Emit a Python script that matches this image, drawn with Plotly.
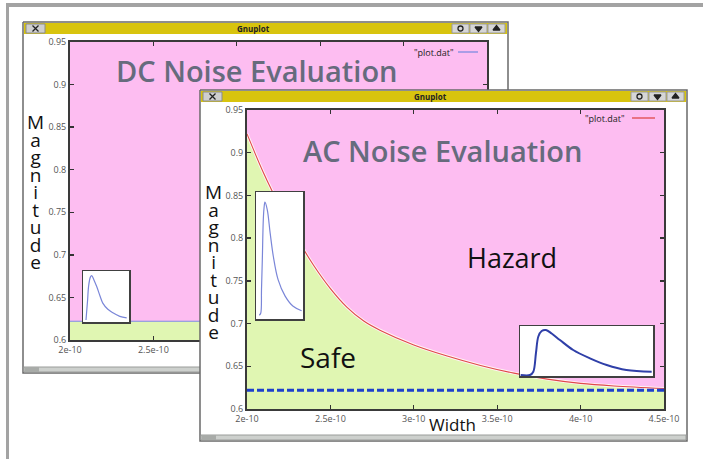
import plotly.graph_objects as go

W, H = 703, 459

# ---------------- data ----------------
# AC noise boundary (pulse width [s] vs magnitude)
ac_width = [2.0e-10, 2.1e-10, 2.2e-10, 2.3e-10, 2.4e-10, 2.5e-10, 2.6e-10, 2.7e-10,
            2.8e-10, 3.0e-10, 3.2e-10, 3.4e-10, 3.6e-10, 3.8e-10, 4.0e-10, 4.2e-10, 4.5e-10]
ac_mag = [0.922, 0.876, 0.836, 0.800, 0.768, 0.741, 0.719, 0.703,
          0.692, 0.675, 0.662, 0.651, 0.642, 0.635, 0.630, 0.627, 0.624]

# DC noise boundary (flat)
dc_width = [2.0e-10, 2.5e-10, 3.0e-10, 3.5e-10, 4.0e-10, 4.5e-10]
dc_mag = [0.622, 0.622, 0.622, 0.622, 0.622, 0.622]

# DC level shown dashed in the AC plot
lvl_width = [2.0e-10, 2.5e-10, 3.0e-10, 3.5e-10, 4.0e-10, 4.5e-10]
lvl_mag = [0.622, 0.622, 0.622, 0.622, 0.622, 0.622]

# small pulse sketches (normalised time, normalised amplitude)
dc_pulse_t = [0.065, 0.10, 0.12, 0.16, 0.19, 0.24, 0.30, 0.37, 0.43, 0.54, 0.65, 0.80, 0.95]
dc_pulse_a = [0.04, 0.43, 0.69, 0.88, 0.91, 0.82, 0.69, 0.51, 0.37, 0.25, 0.18, 0.11, 0.08]

acl_pulse_t = [0.07, 0.10, 0.117, 0.134, 0.155, 0.17, 0.19, 0.24, 0.30, 0.37, 0.47, 0.62, 0.79, 0.97]
acl_pulse_a = [0.03, 0.045, 0.23, 0.46, 0.78, 0.87, 0.92, 0.86, 0.68, 0.49, 0.31, 0.18, 0.10, 0.065]

acr_pulse_t = [0.005, 0.075, 0.10, 0.12, 0.138, 0.163, 0.195, 0.238, 0.30, 0.40, 0.526, 0.652, 0.80, 0.99]
acr_pulse_a = [0.02, 0.02, 0.086, 0.46, 0.79, 0.90, 0.92, 0.85, 0.72, 0.52, 0.354, 0.22, 0.12, 0.086]

x_tickvals = [2.0e-10, 2.5e-10, 3.0e-10, 3.5e-10, 4.0e-10, 4.5e-10]
x_ticktext = ["2e-10", "2.5e-10", "3e-10", "3.5e-10", "4e-10", "4.5e-10"]
y_tickvals = [0.6, 0.65, 0.7, 0.75, 0.8, 0.85, 0.9, 0.95]
y_ticktext = ["0.6", "0.65", "0.7", "0.75", "0.8", "0.85", "0.9", "0.95"]

# ---------------- styling ----------------
PINK = "#fdbdf1"
GREEN = "#e0f6b2"
YELLOW = "#d8c40e"
FONT = "Open Sans"

fig = go.Figure()


def dom(px0, px1, py0, py1):
    return [px0 / W, px1 / W], [1 - py1 / H, 1 - py0 / H]


def rect(xa, ya, x0, y0, x1, y1, fill, line=None, lw=0):
    fig.add_trace(go.Scatter(
        x=[x0, x1, x1, x0, x0], y=[y0, y0, y1, y1, y0], xaxis=xa, yaxis=ya,
        mode="lines", fill="toself", fillcolor=fill,
        line=dict(color=line or fill, width=lw), hoverinfo="skip", showlegend=False))


def glyph(xa, ya, x, y, symbol, size=6, color="#222"):
    fig.add_trace(go.Scatter(
        x=[x], y=[y], xaxis=xa, yaxis=ya, mode="markers",
        marker=dict(symbol=symbol, size=size, color=color, line=dict(color=color, width=1.3)),
        hoverinfo="skip", showlegend=False))


def window(xa, ya, x0, y0, x1, y1):
    rect(xa, ya, x0, y0, x1, y1, "white", "#6a6a6a", 1.5)
    rect(xa, ya, x0 + 1, y0 + 1, x1 - 1, y0 + 12, YELLOW)
    # close button
    rect(xa, ya, x0 + 3, y0 + 2, x0 + 22, y0 + 11, "#cfcfcf", "#8a8a8a", 1)
    glyph(xa, ya, x0 + 12.5, y0 + 6.5, "x-thin-open", 6)
    # right buttons
    bx = x1 - 56
    for i, sym in enumerate(["circle-open", "triangle-down", "triangle-up"]):
        rect(xa, ya, bx + i * 18, y0 + 2, bx + i * 18 + 17, y0 + 11, "#d6d6d6", "#9a9a9a", 1)
        glyph(xa, ya, bx + i * 18 + 8.5, y0 + 6.5, sym, 6 if i else 5)
    # bottom strip
    rect(xa, ya, x0 + 1, y1 - 6, x1 - 1, y1 - 1, "#cdd0cd", "#9a9c9a", 1)
    rect(xa, ya, x0 + 2, y1 - 6, x0 + 16, y1 - 1, "#a8aba8")


# ---- canvas 1: outer frame + DC window ----
rect("x", "y", 6, 3, 703, 7, "#a3a3a3")
rect("x", "y", 6, 3, 9, 459, "#a3a3a3")
window("x", "y", 23, 22, 508, 373)

# ---- DC plot ----
fig.add_trace(go.Scatter(x=dc_width, y=dc_mag, xaxis="x2", yaxis="y2", mode="lines",
                         fill="tozeroy", fillcolor=GREEN, line=dict(width=0),
                         hoverinfo="skip", showlegend=False))
fig.add_trace(go.Scatter(x=[dc_width[0], dc_width[-1]], y=[0.95, 0.95], xaxis="x2", yaxis="y2",
                         mode="lines", fill="tonexty", fillcolor=PINK, line=dict(width=0),
                         hoverinfo="skip", showlegend=False))
fig.add_trace(go.Scatter(x=dc_width, y=dc_mag, xaxis="x2", yaxis="y2", mode="lines",
                         line=dict(color="#7d8be0", width=1.2), hoverinfo="skip", showlegend=False))

# ---- DC inset ----
rect("x3", "y3", 0, 0, 1, 1, "white")
fig.add_trace(go.Scatter(x=dc_pulse_t, y=dc_pulse_a, xaxis="x3", yaxis="y3", mode="lines",
                         line=dict(color="#7a86d8", width=1.2, shape="spline"),
                         hoverinfo="skip", showlegend=False))

# ---- canvas 2: AC window ----
window("x4", "y4", 200, 90, 687, 441)

# ---- AC plot ----
fig.add_trace(go.Scatter(x=ac_width, y=ac_mag, xaxis="x5", yaxis="y5", mode="lines",
                         fill="tozeroy", fillcolor=GREEN, line=dict(width=0, shape="spline"),
                         hoverinfo="skip", showlegend=False))
fig.add_trace(go.Scatter(x=[ac_width[0], ac_width[-1]], y=[0.95, 0.95], xaxis="x5", yaxis="y5",
                         mode="lines", fill="tonexty", fillcolor=PINK, line=dict(width=0),
                         hoverinfo="skip", showlegend=False))
fig.add_trace(go.Scatter(x=ac_width, y=ac_mag, xaxis="x5", yaxis="y5", mode="lines",
                         line=dict(color="#fff4f4", width=3, shape="spline"),
                         hoverinfo="skip", showlegend=False))
fig.add_trace(go.Scatter(x=ac_width, y=ac_mag, xaxis="x5", yaxis="y5", mode="lines",
                         line=dict(color="#e0484a", width=1.1, shape="spline"),
                         hoverinfo="skip", showlegend=False))
fig.add_trace(go.Scatter(x=lvl_width, y=lvl_mag, xaxis="x5", yaxis="y5", mode="lines",
                         line=dict(color="#1d3fcc", width=3, dash="7px,3px"),
                         hoverinfo="skip", showlegend=False))

# ---- AC insets ----
rect("x6", "y6", 0, 0, 1, 1, "white")
fig.add_trace(go.Scatter(x=acl_pulse_t, y=acl_pulse_a, xaxis="x6", yaxis="y6", mode="lines",
                         line=dict(color="#7a86d8", width=1.2, shape="spline"),
                         hoverinfo="skip", showlegend=False))
rect("x7", "y7", 0, 0, 1, 1, "white")
fig.add_trace(go.Scatter(x=acr_pulse_t, y=acr_pulse_a, xaxis="x7", yaxis="y7", mode="lines",
                         line=dict(color="#2f3fa8", width=2, shape="spline"),
                         hoverinfo="skip", showlegend=False))

# ---------------- axes ----------------
canvas = dict(domain=[0, 1], visible=False, fixedrange=True, automargin=False)
tickfont = dict(family=FONT, size=9, color="#555")


def plot_axes(n, xd, yd, xtext):
    return (
        dict(domain=xd, range=[2e-10, 4.5e-10], anchor="y%d" % n, tickvals=x_tickvals,
             ticktext=xtext, ticks="inside", ticklen=4, tickwidth=1.3, tickcolor="#333",
             showline=True, linecolor="#3a3a3a", linewidth=2, mirror="ticks", automargin=False,
             showgrid=False, zeroline=False, tickfont=tickfont, fixedrange=True),
        dict(domain=yd, range=[0.6, 0.95], anchor="x%d" % n, tickvals=y_tickvals,
             ticktext=y_ticktext, ticks="inside", ticklen=4, tickwidth=1.3, tickcolor="#333",
             showline=True, linecolor="#3a3a3a", linewidth=2, mirror="ticks", automargin=False,
             showgrid=False, zeroline=False, tickfont=tickfont, fixedrange=True),
    )


def inset_axes(n, xd, yd):
    common = dict(range=[0, 1], showline=True, linecolor="#404040", linewidth=1.5, mirror=True,
                  showticklabels=False, ticks="", showgrid=False, zeroline=False,
                  fixedrange=True, automargin=False)
    return dict(domain=xd, anchor="y%d" % n, **common), dict(domain=yd, anchor="x%d" % n, **common)


dc_xd, dc_yd = dom(70, 487, 42, 340)
ac_xd, ac_yd = dom(247, 664, 110, 409)
dcx, dcy = plot_axes(2, dc_xd, dc_yd, [x_ticktext[0], x_ticktext[1], "", "", "", ""])
acx, acy = plot_axes(5, ac_xd, ac_yd, x_ticktext)
i3x, i3y = inset_axes(3, *dom(83, 129, 271, 322))
i6x, i6y = inset_axes(6, *dom(256, 303, 192, 319))
i7x, i7y = inset_axes(7, *dom(520, 653, 326, 376))

fig.update_layout(
    width=W, height=H, autosize=False,
    margin=dict(l=0, r=0, t=0, b=0, pad=0, autoexpand=False),
    paper_bgcolor="white", plot_bgcolor="rgba(0,0,0,0)", showlegend=False,
    xaxis=dict(range=[0, W], **canvas), yaxis=dict(range=[H, 0], **canvas),
    xaxis4=dict(range=[0, W], anchor="y4", **canvas), yaxis4=dict(range=[H, 0], anchor="x4", **canvas),
    xaxis2=dcx, yaxis2=dcy, xaxis5=acx, yaxis5=acy,
    xaxis3=i3x, yaxis3=i3y, xaxis6=i6x, yaxis6=i6y, xaxis7=i7x, yaxis7=i7y,
)

# ---------------- texts (pixel positions on the canvas axes) ----------------
ann = []


def text(x, y, s, size, color="#111", weight=None, xanchor="center"):
    f = dict(family=FONT, size=size, color=color)
    if weight:
        f["weight"] = weight
    ann.append(dict(x=x, y=y, xref="x", yref="y", text=s, showarrow=False, font=f,
                    xanchor=xanchor, yanchor="middle", borderpad=0))


text(253, 28.5, "Gnuplot", 8, "#222", 700)
text(430, 96.5, "Gnuplot", 8, "#222", 700)
text(257, 70, "DC Noise Evaluation", 29, "#666b7d", 600)
text(442, 150, "AC Noise Evaluation", 29, "#666b7d", 600)
text(455, 52, '"plot.dat"', 9, "#222", xanchor="right")
text(626, 118, '"plot.dat"', 9, "#222", xanchor="right")
text(512, 257, "Hazard", 27)
text(328, 357, "Safe", 28)
text(452, 424, "Width", 17)

# vertical, letter-by-letter axis label: 13.5px base line height, 19px glyphs
vlabel = "<br>".join('<span style="font-size:19px">%s</span>' % ch for ch in "Magnitude")
text(35, 192, vlabel, 13.5)
text(213, 262, vlabel, 13.5)

fig.update_layout(annotations=ann, shapes=[
    dict(type="line", xref="x", yref="y", x0=458, x1=478, y0=52, y1=52,
         line=dict(color="#7d8be0", width=1.3), layer="above"),
    dict(type="line", xref="x", yref="y", x0=632, x1=655, y0=118, y1=118,
         line=dict(color="#e0484a", width=1.3), layer="above"),
])

fig.write_html("out.html", config={"displayModeBar": False, "staticPlot": True},
               post_script="document.body.style.margin='0px';")
